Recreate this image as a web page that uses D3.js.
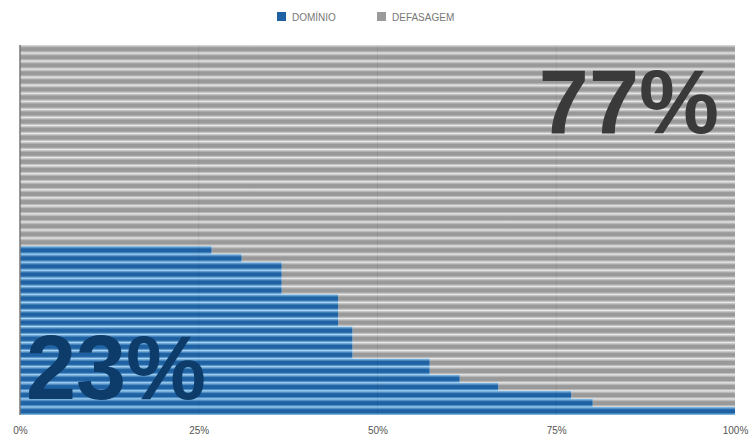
<!DOCTYPE html>
<html>
<head>
<meta charset="utf-8">
<script src="https://cdn.jsdelivr.net/npm/d3@7"></script>
<style>
  body { margin: 0; background: #fff; }
  text { font-family: "Liberation Sans", Arial, sans-serif; }
</style>
</head>
<body>
<script>
//data - one bar per row, listed from top to bottom (share of DOMÍNIO, rest is DEFASAGEM)
var rows = d3.range(1, 47).map(function(i) { return "R" + i; });
var dominio = [
  0, 0, 0, 0, 0, 0, 0, 0, 0, 0,
  0, 0, 0, 0, 0, 0, 0, 0, 0, 0,
  0, 0, 0, 0, 0,
  0.268, 0.31, 0.366, 0.366, 0.366, 0.366,
  0.445, 0.445, 0.445, 0.445,
  0.465, 0.465, 0.465, 0.465,
  0.573, 0.573, 0.615, 0.669, 0.771, 0.801, 1.0
];
var seriesNames = ["DOMÍNIO", "DEFASAGEM"];
var tickValues = [0, 0.25, 0.5, 0.75, 1];
var bigLabels = ["23%", "77%"];

var W = 753, H = 440;
var margin = {top: 45, right: 18, bottom: 25, left: 20},
    width = W - margin.left - margin.right,
    height = H - margin.top - margin.bottom;

var svg = d3.select("body").append("svg")
    .attr("width", W)
    .attr("height", H);

//gradients so every bar gets the light/dark stripe look
var defs = svg.append("defs");
function stripe(id, light, dark) {
  var g = defs.append("linearGradient").attr("id", id)
      .attr("x1", 0).attr("y1", 0).attr("x2", 0).attr("y2", 1);
  g.append("stop").attr("offset", "0%").attr("stop-color", light);
  g.append("stop").attr("offset", "35%").attr("stop-color", dark);
  g.append("stop").attr("offset", "70%").attr("stop-color", dark);
  g.append("stop").attr("offset", "100%").attr("stop-color", light);
}
stripe("gBlue", "#92c8ee", "#1f62a4");
stripe("gGray", "#e2e2e2", "#999999");

var g = svg.append("g")
    .attr("transform", "translate(" + margin.left + "," + margin.top + ")");

//scales
var xScale = d3.scaleLinear().domain([0, 1]).range([0, width]);
var yScale = d3.scaleBand().domain(rows).range([0, height]).padding(0);

//gray (defasagem) part
g.selectAll("rect.def")
    .data(rows)
    .enter().append("rect")
    .attr("class", "def")
    .attr("x", function(d, i) { return xScale(dominio[i]); })
    .attr("y", function(d) { return yScale(d); })
    .attr("width", function(d, i) { return xScale(1) - xScale(dominio[i]); })
    .attr("height", yScale.bandwidth())
    .attr("fill", "url(#gGray)");

//blue (dominio) part
g.selectAll("rect.dom")
    .data(rows)
    .enter().append("rect")
    .attr("class", "dom")
    .attr("x", xScale(0))
    .attr("y", function(d) { return yScale(d); })
    .attr("width", function(d, i) { return xScale(dominio[i]); })
    .attr("height", yScale.bandwidth())
    .attr("fill", "url(#gBlue)");

//faint vertical gridlines
g.selectAll("line.grid")
    .data(tickValues.slice(1, 4))
    .enter().append("line")
    .attr("class", "grid")
    .attr("x1", function(d) { return xScale(d); })
    .attr("x2", function(d) { return xScale(d); })
    .attr("y1", 0).attr("y2", height)
    .attr("stroke", "#000").attr("stroke-opacity", 0.06);

//left axis line
g.append("line")
    .attr("x1", 0).attr("x2", 0).attr("y1", 0).attr("y2", height)
    .attr("stroke", "#777").attr("stroke-width", 1.5);

//x axis
var xAxis = d3.axisBottom(xScale)
    .tickValues(tickValues)
    .tickFormat(d3.format(".0%"))
    .tickSize(0).tickPadding(12);
var ax = g.append("g")
    .attr("transform", "translate(0," + height + ")")
    .call(xAxis);
ax.select(".domain").remove();
ax.selectAll("text").attr("fill", "#555").style("font-size", "10px");

//big labels
g.append("text")
    .attr("x", 6).attr("y", 354)
    .attr("fill", "#0e3c6a")
    .style("font-size", "90px").style("font-weight", "bold")
    .text(bigLabels[0]);
g.append("text")
    .attr("x", 699).attr("y", 88)
    .attr("text-anchor", "end")
    .attr("fill", "#3a3a3a")
    .style("font-size", "90px").style("font-weight", "bold")
    .text(bigLabels[1]);

//legend
var legendX = [277, 377];
var legendColor = ["#1f62a4", "#9a9a9a"];
var leg = svg.selectAll("g.leg")
    .data(seriesNames)
    .enter().append("g")
    .attr("class", "leg")
    .attr("transform", function(d, i) { return "translate(" + legendX[i] + ",12)"; });
leg.append("rect")
    .attr("width", 9).attr("height", 9)
    .attr("fill", function(d, i) { return legendColor[i]; });
leg.append("text")
    .attr("x", 15).attr("y", 8.5)
    .attr("fill", "#777")
    .style("font-size", "10px")
    .text(function(d) { return d; });
</script>
</body>
</html>
